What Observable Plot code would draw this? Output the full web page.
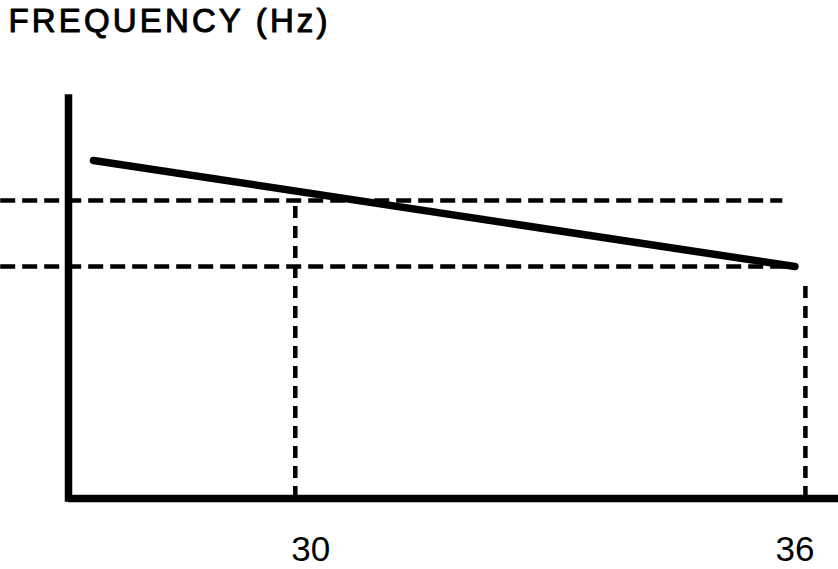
<!DOCTYPE html>
<html><head><meta charset="utf-8">
<script src="https://cdn.jsdelivr.net/npm/d3@7"></script>
<script src="https://cdn.jsdelivr.net/npm/@observablehq/plot@0.6"></script>
<style>html,body{margin:0;padding:0;background:#fff}</style>
</head><body><div id="chart"></div>
<script>
// ---- data ----
const title = "FREQUENCY (Hz)";
const xTicks = [30, 36];
const xDomain = [27, 36.54];
const yDomain = [0, 100];
// solid frequency line
const freqX = [27.31, 36.0];
const freqY = [84.5, 58.0];
// horizontal dashed guides
const hGuideY = [74.5, 58.0];
const hGuideX1 = [26.16, 26.16];
const hGuideX2 = [35.85, 35.94];
// vertical dashed guides
const vGuideX = [29.81, 36.13];
const vGuideY2 = [74.5, 53.75];

const freq = freqX.map((x, i) => ({x, y: freqY[i]}));
const hGuides = hGuideY.map((y, i) => ({y, x1: hGuideX1[i], x2: hGuideX2[i]}));
const vGuides = vGuideX.map((x, i) => ({x, y1: yDomain[0], y2: vGuideY2[i]}));

const chart = Plot.plot({
  width: 838, height: 569,
  marginLeft: 68, marginRight: 0, marginTop: 98, marginBottom: 71,
  style: {fontFamily: "'Liberation Sans', Arial, sans-serif", fontSize: "35px", background: "#fff", color: "#000", overflow: "visible"},
  x: {domain: xDomain},
  y: {domain: yDomain, axis: null},
  marks: [
    Plot.ruleY(hGuides, {y: "y", x1: "x1", x2: "x2", stroke: "#000", strokeWidth: 4.5, strokeDasharray: "15 7"}),
    Plot.ruleX(vGuides, {x: "x", y1: "y1", y2: "y2", stroke: "#000", strokeWidth: 4.5, strokeDasharray: "12 8"}),
    Plot.line(freq, {x: "x", y: "y", stroke: "#000", strokeWidth: 7.5, strokeLinecap: "round"}),
    Plot.ruleX([xDomain[0]], {y1: yDomain[0], y2: yDomain[1], stroke: "#000", strokeWidth: 7.5, strokeLinecap: "square"}),
    Plot.ruleY([yDomain[0]], {stroke: "#000", strokeWidth: 7.5}),
    Plot.axisX({ticks: xTicks, tickSize: 0, tickPadding: 38, label: null, fontSize: 35, stroke: "#000", strokeWidth: 0.4}),
    Plot.text([title], {frameAnchor: "top-left", text: d => d, dx: -60, dy: -90, lineAnchor: "top", textAnchor: "start", fontSize: 33, fill: "#000", stroke: "#000", strokeWidth: 1})
  ]
});
document.getElementById("chart").appendChild(chart);
// stretch title to the scanned width
for (const t of chart.querySelectorAll("text")) {
  if (t.textContent === title) {
    t.setAttribute("textLength", 319);
    t.setAttribute("lengthAdjust", "spacing");
  }
}
</script>
</body></html>
